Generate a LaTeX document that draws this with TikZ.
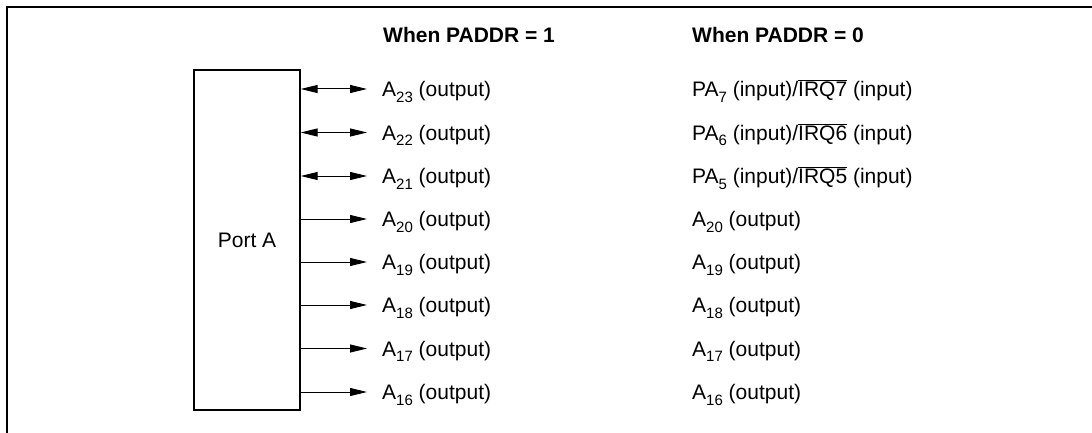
\documentclass[tikz,border=0pt]{standalone}
\usepackage{fontspec}
\setmainfont{Liberation Sans}
\usetikzlibrary{arrows.meta}
\newcommand{\sbs}[1]{\raisebox{-0.28em}{\fontsize{15pt}{15pt}\selectfont #1}}
\newcommand{\ovl}[1]{$\overline{\hbox{#1}}$}
\tikzset{
  lbl/.style={anchor=base west, inner sep=0pt, font=\fontsize{21pt}{24pt}\selectfont},
  hdr/.style={anchor=base west, inner sep=0pt, font=\fontsize{21pt}{24pt}\selectfont\bfseries},
  sig/.style={line width=1pt, -{Triangle[length=17pt,width=8pt]}},
  bsig/.style={line width=1pt, {Triangle[length=17pt,width=8pt]}-{Triangle[length=17pt,width=8pt]}},
  portbox/.style={draw, line width=1.3pt, minimum width=106pt, minimum height=340pt, inner sep=0pt, font=\fontsize{21pt}{24pt}\selectfont}
}
\begin{document}
\begin{tikzpicture}[x=1pt,y=-1pt]
\useasboundingbox (0,0) rectangle (1092,433);
\draw[line width=1.5pt] (7,433) -- (7,7) -- (1092,7);
\node[portbox] (box) at (247,240) {Port A};
\node[hdr] (h1) at (383,43) {When PADDR = 1};
\node[hdr] (h2) at (692,43) {When PADDR = 0};
\foreach \i/\y/\a/\b in {
  1/89/23/{PA\sbs{7} (input)/\ovl{IRQ7} (input)},
  2/132.5/22/{PA\sbs{6} (input)/\ovl{IRQ6} (input)},
  3/176/21/{PA\sbs{5} (input)/\ovl{IRQ5} (input)},
  4/219/20/{A\sbs{20} (output)},
  5/262/19/{A\sbs{19} (output)},
  6/305/18/{A\sbs{18} (output)},
  7/348.5/17/{A\sbs{17} (output)},
  8/392/16/{A\sbs{16} (output)}}{
  \coordinate (t\i) at (367,\y);
  \node[lbl] (a\i) at (382,\y+7.5) {A\sbs{\a} (output)};
  \node[lbl] (b\i) at (692,\y+7.5) {\b};
}
\foreach \i in {1,2,3}{\draw[bsig] (box.east |- t\i) -- (t\i);}
\foreach \i in {4,...,8}{\draw[sig] (box.east |- t\i) -- (t\i);}
\end{tikzpicture}
\end{document}
